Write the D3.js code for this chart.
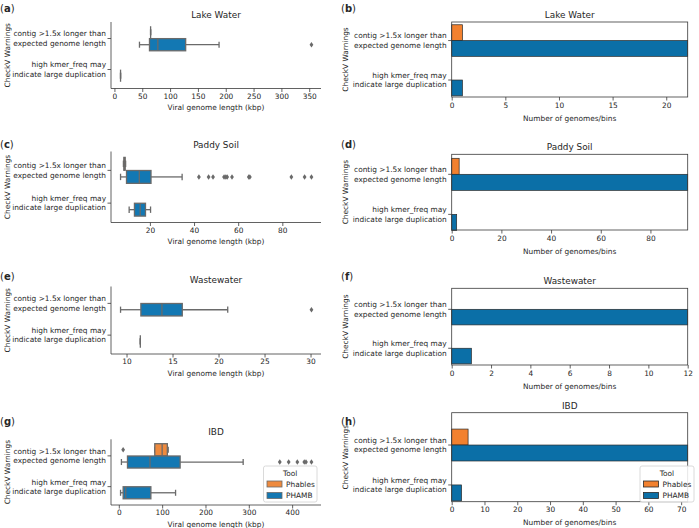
<!DOCTYPE html>
<html><head><meta charset="utf-8">
<script src="https://cdn.jsdelivr.net/npm/d3@7"></script>
<style>
body{margin:0;background:#fff}
svg text{font-family:"DejaVu Sans",sans-serif;fill:#262626}
</style>
</head><body>
<svg id="chart" width="699" height="528"></svg>
<script>
// ---------------- DATA ----------------
const warnings = [
  ["contig >1.5x longer than", "expected genome length"],
  ["high kmer_freq may", "indicate large duplication"]
];
const tools = ["Phables", "PHAMB"];
const panelTitles = ["Lake Water", "Paddy Soil", "Wastewater", "IBD"];
const boxLetters = ["a", "c", "e", "g"];
const barLetters = ["b", "d", "f", "h"];

// box stats: [tool, warning index, whisker low, q1, median, q3, whisker high, outliers] (kbp)
const lakeWaterBoxes = [
  ["Phables", 0, 65, 65, 65, 65, 65, []],
  ["PHAMB", 0, 45, 63, 78, 128, 188, [354]],
  ["PHAMB", 1, 11, 11, 11, 11, 11, []]
];
const paddySoilBoxes = [
  ["Phables", 0, 8.0, 8.2, 8.5, 8.8, 9.0, []],
  ["PHAMB", 0, 6.7, 9.4, 15.2, 20.5, 34.6, [42.2, 46.6, 48.6, 53.6, 54.4, 55.0, 57.2, 64.8, 65.3, 84.1, 90.1, 93.2]],
  ["PHAMB", 1, 10.6, 13.0, 15.6, 18.0, 20.3, []]
];
const wastewaterBoxes = [
  ["PHAMB", 0, 9.35, 11.56, 13.85, 16.06, 21.0, [30.1]],
  ["PHAMB", 1, 11.5, 11.5, 11.5, 11.5, 11.5, []]
];
const ibdBoxes = [
  ["Phables", 0, 83, 83, 100, 112, 114, [10]],
  ["PHAMB", 0, 6, 20, 72, 141.5, 287, [371.5, 392, 412, 428, 432, 444.6]],
  ["PHAMB", 1, 4, 10, 16, 74, 131, []]
];

// counts per warning [contig, high kmer]
const lakeWaterPhables = [1, 0],  lakeWaterPHAMB = [22, 1];
const paddySoilPhables = [3, 0],  paddySoilPHAMB = [95, 2];
const wastewaterPhables = [0, 0], wastewaterPHAMB = [12, 1];
const ibdPhables = [5, 0],        ibdPHAMB = [72, 3];

// tick labels
const lakeWaterLenTicks = [0, 50, 100, 150, 200, 250, 300, 350];
const paddySoilLenTicks = [20, 40, 60, 80];
const wastewaterLenTicks = [10, 15, 20, 25, 30];
const ibdLenTicks = [0, 100, 200, 300, 400];
const lakeWaterCountTicks = [0, 5, 10, 15, 20];
const paddySoilCountTicks = [0, 20, 40, 60, 80];
const wastewaterCountTicks = [0, 2, 4, 6, 8, 10, 12];
const ibdCountTicks = [0, 10, 20, 30, 40, 50, 60, 70];

// ---------------- STYLE / LAYOUT ----------------
const boxColor = {Phables: "#ee8a3e", PHAMB: "#1378b3"};
const barColor = {Phables: "#f2812f", PHAMB: "#0b6fa7"};
const lineGray = "#6a6a6a";
const FS = 7.4, TFS = 8.9;

const boxLayout = [
  {top: 23, bottom: 85, spineTop: 22, spineBottom: 88.5, label: 8},
  {top: 154, bottom: 219.5, spineTop: 151.5, spineBottom: 222.5, label: 144},
  {top: 287.5, bottom: 351, spineTop: 286.5, spineBottom: 354, label: 276},
  {top: 440.5, bottom: 502, spineTop: 439.3, spineBottom: 505, label: 421}
];
const barLayout = [
  {top: 22, bottom: 97, dom: [-0.47, 1.43], label: 8},
  {top: 154.3, bottom: 230, dom: [-0.5, 1.39], label: 144},
  {top: 288.3, bottom: 365, dom: [-0.54, 1.43], label: 276},
  {top: 412.7, bottom: 501.7, dom: [-0.81, 1.42], label: 421}
];
const BX0 = 111, BX1 = 321, RX0 = 451.7, RX1 = 687.7;

const svg = d3.select("#chart");

function panelLetter(x, y, letter) {
  const t = svg.append("text").attr("x", x).attr("y", y).attr("dy", "0.35em")
    .style("font-size", "10px");
  t.append("tspan").text("(");
  t.append("tspan").style("font-weight", "bold").text(letter);
  t.append("tspan").text(")");
}

function yTickLabels(g, xRight, yPos) {
  warnings.forEach((w, i) => {
    const t = g.append("text").attr("text-anchor", "end").style("font-size", FS + "px");
    t.append("tspan").attr("x", xRight).attr("y", yPos(i) - 4.7).attr("dy", "0.35em").text(w[0]);
    t.append("tspan").attr("x", xRight).attr("y", yPos(i) + 4.7).attr("dy", "0.35em").text(w[1]);
  });
}

function yLabel(g, x, yMid) {
  g.append("text").attr("transform", `translate(${x},${yMid}) rotate(-90)`)
    .attr("text-anchor", "middle").attr("dy", "0.35em").style("font-size", FS + "px")
    .text("CheckV Warnings");
}

function legend(g, x, y, w, colors, edge) {
  const lg = g.append("g").attr("transform", `translate(${x},${y})`);
  lg.append("rect").attr("width", w).attr("height", 36).attr("rx", 2)
    .attr("fill", "#fff").attr("fill-opacity", 0.85).attr("stroke", "#d0d0d0").attr("stroke-width", 0.8);
  lg.append("text").attr("x", w / 2).attr("y", 7.5).attr("dy", "0.35em")
    .attr("text-anchor", "middle").style("font-size", FS + "px").text("Tool");
  tools.forEach((t, i) => {
    const yy = 18 + i * 11.5;
    lg.append("rect").attr("x", 3.5).attr("y", yy - 3).attr("width", 15).attr("height", 6)
      .attr("fill", colors[t]).attr("stroke", edge).attr("stroke-width", 0.8);
    lg.append("text").attr("x", 22.5).attr("y", yy).attr("dy", "0.35em")
      .style("font-size", FS + "px").text(t);
  });
}

function drawBoxPanel(idx, boxes, ticks) {
  const L = boxLayout[idx];
  const g = svg.append("g");
  const vals = boxes.flatMap(b => [b[2], b[6], ...b[7]]);
  const [mn, mx] = d3.extent(vals);
  const pad = (mx - mn) * 0.05;
  const x = d3.scaleLinear().domain([mn - pad, mx + pad]).range([BX0, BX1]);
  const y = d3.scaleLinear().domain([-0.5, 1.5]).range([L.top, L.bottom]);

  g.append("line").attr("x1", BX0).attr("x2", BX0).attr("y1", L.spineTop).attr("y2", L.spineBottom)
    .attr("stroke", "#3a3a3a").attr("stroke-width", 0.8);
  g.append("line").attr("x1", BX0).attr("x2", BX1).attr("y1", L.spineBottom).attr("y2", L.spineBottom)
    .attr("stroke", "#3a3a3a").attr("stroke-width", 0.8);
  const ax = g.append("g").attr("transform", `translate(0,${L.spineBottom})`)
    .call(d3.axisBottom(x).tickValues(ticks).tickSize(3.5).tickPadding(1.5).tickFormat(d3.format("d")));
  ax.select(".domain").remove();
  ax.selectAll("line").attr("stroke", "#3a3a3a").attr("stroke-width", 0.8);
  ax.selectAll("text").style("font-size", FS + "px").attr("fill", "#262626").style("font-family", '"DejaVu Sans",sans-serif');
  g.append("text").attr("x", (BX0 + BX1) / 2).attr("y", L.spineBottom + 19).attr("dy", "0.35em")
    .attr("text-anchor", "middle").style("font-size", FS + "px").text("Viral genome length (kbp)");
  [0, 1].forEach(i => g.append("line").attr("x1", BX0 - 3.5).attr("x2", BX0).attr("y1", y(i)).attr("y2", y(i))
    .attr("stroke", "#3a3a3a").attr("stroke-width", 0.8));
  yTickLabels(g, BX0 - 5, y);
  yLabel(g, 7, (L.spineTop + L.spineBottom) / 2);
  g.append("text").attr("x", (BX0 + BX1) / 2).attr("y", L.spineTop - 7).attr("dy", "0.35em")
    .attr("text-anchor", "middle").style("font-size", TFS + "px").text(panelTitles[idx]);
  panelLetter(0, L.label, boxLetters[idx]);

  const hh = y(0.196) - y(0);
  boxes.forEach(b => {
    const [tool, wi, lo, q1, med, q3, hi, out] = b;
    const cy = y(wi + (tool === "Phables" ? -0.2 : 0.2));
    const bg = g.append("g");
    bg.append("line").attr("x1", x(lo)).attr("x2", x(q1)).attr("y1", cy).attr("y2", cy)
      .attr("stroke", lineGray).attr("stroke-width", 1.3);
    bg.append("line").attr("x1", x(q3)).attr("x2", x(hi)).attr("y1", cy).attr("y2", cy)
      .attr("stroke", lineGray).attr("stroke-width", 1.3);
    [lo, hi].forEach(v => bg.append("line").attr("x1", x(v)).attr("x2", x(v))
      .attr("y1", cy - hh / 2).attr("y2", cy + hh / 2).attr("stroke", lineGray).attr("stroke-width", 1.3));
    bg.append("rect").attr("x", x(q1)).attr("y", cy - hh).attr("width", Math.max(0, x(q3) - x(q1)))
      .attr("height", 2 * hh).attr("fill", boxColor[tool]).attr("stroke", lineGray).attr("stroke-width", 1.3);
    bg.append("line").attr("x1", x(med)).attr("x2", x(med)).attr("y1", cy - hh).attr("y2", cy + hh)
      .attr("stroke", lineGray).attr("stroke-width", 1.3);
    out.forEach(v => bg.append("path")
      .attr("d", `M${x(v)},${cy - 2.8}L${x(v) + 1.9},${cy}L${x(v)},${cy + 2.8}L${x(v) - 1.9},${cy}Z`)
      .attr("fill", lineGray));
  });
  if (idx === 3) legend(g, 263.5, 466, 53.5, boxColor, lineGray);
}

function drawBarPanel(idx, phables, phamb, ticks) {
  const L = barLayout[idx];
  const g = svg.append("g");
  const mx = d3.max([...phables, ...phamb]);
  const x = d3.scaleLinear().domain([0, mx]).range([RX0, RX1]);
  const y = d3.scaleLinear().domain(L.dom).range([L.top, L.bottom]);
  const series = {Phables: phables, PHAMB: phamb};
  tools.forEach(t => {
    series[t].forEach((v, wi) => {
      if (!v) return;
      const y0 = t === "Phables" ? y(wi - 0.4) : y(wi);
      const y1 = t === "Phables" ? y(wi) : y(wi + 0.4);
      g.append("rect").attr("x", x(0)).attr("y", y0).attr("width", x(v) - x(0)).attr("height", y1 - y0)
        .attr("fill", barColor[t]).attr("stroke", "#2a2a2a").attr("stroke-width", 0.7);
    });
  });
  g.append("rect").attr("x", RX0).attr("y", L.top).attr("width", RX1 - RX0).attr("height", L.bottom - L.top)
    .attr("fill", "none").attr("stroke", "#3a3a3a").attr("stroke-width", 0.8);
  const ax = g.append("g").attr("transform", `translate(0,${L.bottom})`)
    .call(d3.axisBottom(x).tickValues(ticks).tickSize(3.5).tickPadding(2).tickFormat(d3.format("d")));
  ax.select(".domain").remove();
  ax.selectAll("line").attr("stroke", "#3a3a3a").attr("stroke-width", 0.8);
  ax.selectAll("text").style("font-size", FS + "px").attr("fill", "#262626").style("font-family", '"DejaVu Sans",sans-serif');
  g.append("text").attr("x", (RX0 + RX1) / 2).attr("y", L.bottom + 21).attr("dy", "0.35em")
    .attr("text-anchor", "middle").style("font-size", FS + "px").text("Number of genomes/bins");
  [0, 1].forEach(i => g.append("line").attr("x1", RX0 - 3.5).attr("x2", RX0).attr("y1", y(i)).attr("y2", y(i))
    .attr("stroke", "#3a3a3a").attr("stroke-width", 0.8));
  yTickLabels(g, RX0 - 5, y);
  yLabel(g, 345.5, (L.top + L.bottom) / 2);
  g.append("text").attr("x", (RX0 + RX1) / 2).attr("y", L.top - 7).attr("dy", "0.35em")
    .attr("text-anchor", "middle").style("font-size", TFS + "px").text(panelTitles[idx]);
  panelLetter(341, L.label, barLetters[idx]);
  if (idx === 3) legend(g, 640, 466, 54, barColor, "#2a2a2a");
}

drawBoxPanel(0, lakeWaterBoxes, lakeWaterLenTicks);
drawBoxPanel(1, paddySoilBoxes, paddySoilLenTicks);
drawBoxPanel(2, wastewaterBoxes, wastewaterLenTicks);
drawBoxPanel(3, ibdBoxes, ibdLenTicks);
drawBarPanel(0, lakeWaterPhables, lakeWaterPHAMB, lakeWaterCountTicks);
drawBarPanel(1, paddySoilPhables, paddySoilPHAMB, paddySoilCountTicks);
drawBarPanel(2, wastewaterPhables, wastewaterPHAMB, wastewaterCountTicks);
drawBarPanel(3, ibdPhables, ibdPHAMB, ibdCountTicks);
</script>
</body></html>
